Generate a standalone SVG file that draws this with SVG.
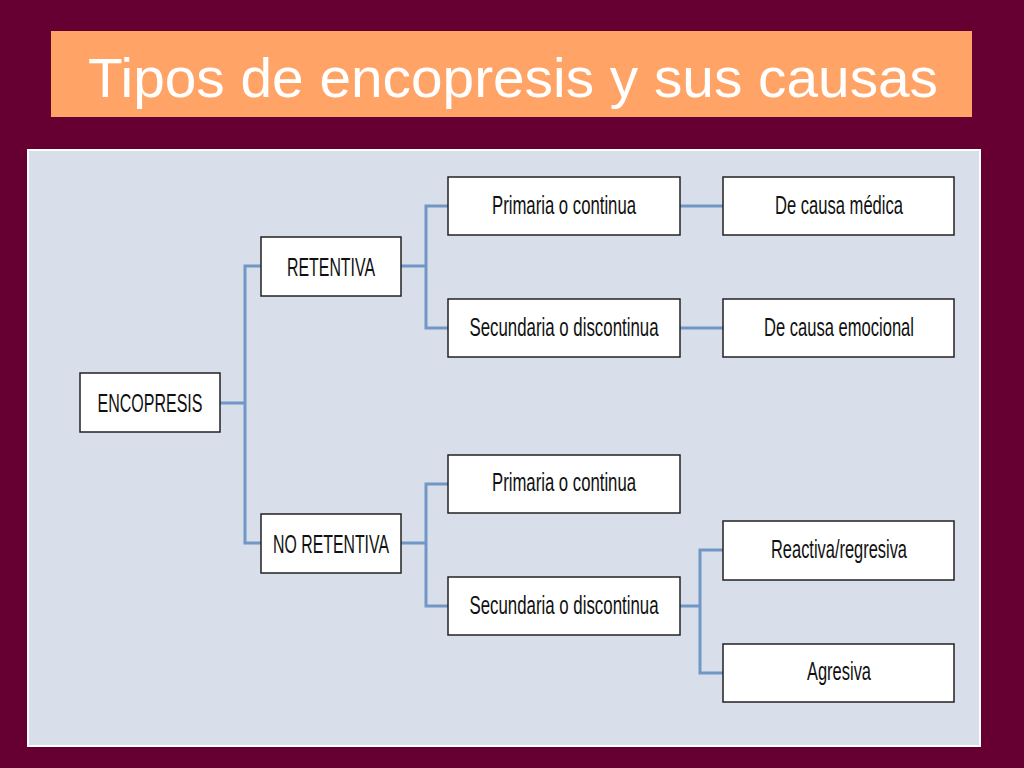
<svg xmlns="http://www.w3.org/2000/svg" width="1024" height="768" viewBox="0 0 1024 768">
<style>
.b{fill:#fff;stroke:#222;stroke-width:1.5}
.t{font-family:"Liberation Sans",Arial,sans-serif;font-size:25px;fill:#111;text-anchor:middle}
.c{fill:none;stroke:#7097C6;stroke-width:3}
</style>
<rect width="1024" height="768" fill="#660033"/>
<rect x="51" y="31" width="921" height="86" fill="#FFA466"/>
<text x="513" y="97" font-family="Liberation Sans,Arial,sans-serif" font-size="56" fill="#fff" text-anchor="middle" textLength="850" lengthAdjust="spacingAndGlyphs">Tipos de encopresis y sus causas</text>
<rect x="28" y="150" width="952" height="596" fill="#D9DFEA" stroke="#fff" stroke-width="2"/>
<g id="connectors">
<path class="c" d="M220 403H245M261 266H245V543H261"/>
<path class="c" d="M401 266H426M448 206H426V328H448"/>
<path class="c" d="M401 543H426M448 484H426V606H448"/>
<path class="c" d="M680 206H723M680 328H723"/>
<path class="c" d="M680 606H700M723 550H700V673H723"/>
</g>
<g id="encopresis"><rect class="b" x="80" y="373" width="140" height="59"/><text class="t" x="150" y="412" textLength="105" lengthAdjust="spacingAndGlyphs">ENCOPRESIS</text></g>
<g id="retentiva"><rect class="b" x="261" y="237" width="140" height="59"/><text class="t" x="331" y="276" textLength="88" lengthAdjust="spacingAndGlyphs">RETENTIVA</text></g>
<g id="noretentiva"><rect class="b" x="261" y="514" width="140" height="59"/><text class="t" x="331" y="553" textLength="116" lengthAdjust="spacingAndGlyphs">NO RETENTIVA</text></g>
<g id="primaria1"><rect class="b" x="448" y="177" width="232" height="58"/><text class="t" x="564" y="214" textLength="144" lengthAdjust="spacingAndGlyphs">Primaria o continua</text></g>
<g id="secundaria1"><rect class="b" x="448" y="299" width="232" height="58"/><text class="t" x="564" y="336" textLength="189" lengthAdjust="spacingAndGlyphs">Secundaria o discontinua</text></g>
<g id="primaria2"><rect class="b" x="448" y="455" width="232" height="58"/><text class="t" x="564" y="491" textLength="144" lengthAdjust="spacingAndGlyphs">Primaria o continua</text></g>
<g id="secundaria2"><rect class="b" x="448" y="577" width="232" height="58"/><text class="t" x="564" y="614" textLength="189" lengthAdjust="spacingAndGlyphs">Secundaria o discontinua</text></g>
<g id="medica"><rect class="b" x="723" y="177" width="231" height="58"/><text class="t" x="839" y="214" textLength="128" lengthAdjust="spacingAndGlyphs">De causa médica</text></g>
<g id="emocional"><rect class="b" x="723" y="299" width="231" height="58"/><text class="t" x="839" y="336" textLength="150" lengthAdjust="spacingAndGlyphs">De causa emocional</text></g>
<g id="reactiva"><rect class="b" x="723" y="521" width="231" height="59"/><text class="t" x="839" y="558" textLength="136" lengthAdjust="spacingAndGlyphs">Reactiva/regresiva</text></g>
<g id="agresiva"><rect class="b" x="723" y="644" width="231" height="58"/><text class="t" x="839" y="680" textLength="64" lengthAdjust="spacingAndGlyphs">Agresiva</text></g>
</svg>
